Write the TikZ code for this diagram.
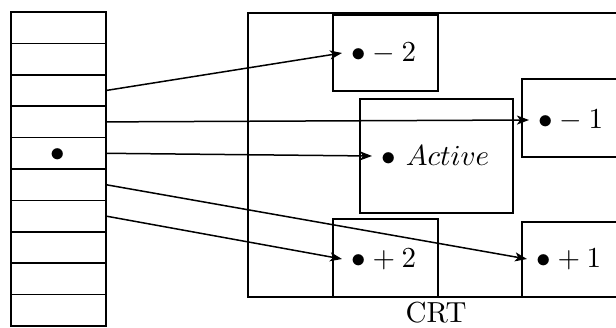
\documentclass[tikz,border=0pt]{standalone}
\usepackage{graphicx}
\usetikzlibrary{arrows.meta}
\newcommand{\bigtxt}[1]{\scalebox{2.9}{#1}}
\begin{document}
\begin{tikzpicture}[x=1pt,y=-1pt,line width=1.5pt,
  cell/.style={draw,minimum width=95pt,minimum height=31.4pt,inner sep=0pt,outer sep=0pt},
  frame/.style={draw,inner sep=0pt,outer sep=0pt},
  lab/.style={anchor=west,inner xsep=9pt,inner ysep=3pt},
  arr/.style={-{Stealth[length=12pt,width=9pt,inset=3pt]}}]
\useasboundingbox (0,0) rectangle (616,328);
\clip (0,0) rectangle (616,328);
% left column
\foreach \i in {1,...,10}
  \node[cell] (c\i) at (58.5,{12+31.4*(\i-0.5)}) {};
\node[inner sep=0pt] (dot) at (58,155) {\bigtxt{$\bullet$}};
% CRT frame and windows
\node[frame,minimum width=384pt,minimum height=284pt] (crt) at (440,155) {};
\node[frame,minimum width=105pt,minimum height=76pt] (bm2) at (385.5,53) {};
\node[frame,minimum width=153pt,minimum height=114pt] (bact) at (436.5,156) {};
\node[frame,minimum width=105pt,minimum height=78pt] (bp2) at (385.5,258) {};
\node[frame,minimum width=108pt,minimum height=78pt] (bm1) at (576,118) {};
\node[frame,minimum width=108pt,minimum height=75pt] (bp1) at (576,259.5) {};
% labels
\node[lab] (lm2) at (342,53) {\bigtxt{$\bullet - 2$}};
\node[lab] (lact) at (372,156) {\bigtxt{$\bullet\ Active$}};
\node[lab] (lp2) at (342,259) {\bigtxt{$\bullet + 2$}};
\node[lab] (lm1) at (529,120) {\bigtxt{$\bullet - 1$}};
\node[lab] (lp1) at (527,259) {\bigtxt{$\bullet + 1$}};
\node[inner sep=0pt] (crtlab) at (436,313) {\bigtxt{CRT}};
% arrows
\draw[arr] (c3.east) -- (lm2.west);
\draw[arr] (c4.east) -- (lm1.west);
\draw[arr] (c5.east) -- (lact.west);
\draw[arr] (c6.east) -- (lp1.west);
\draw[arr] (c7.east) -- (lp2.west);
\end{tikzpicture}
\end{document}
